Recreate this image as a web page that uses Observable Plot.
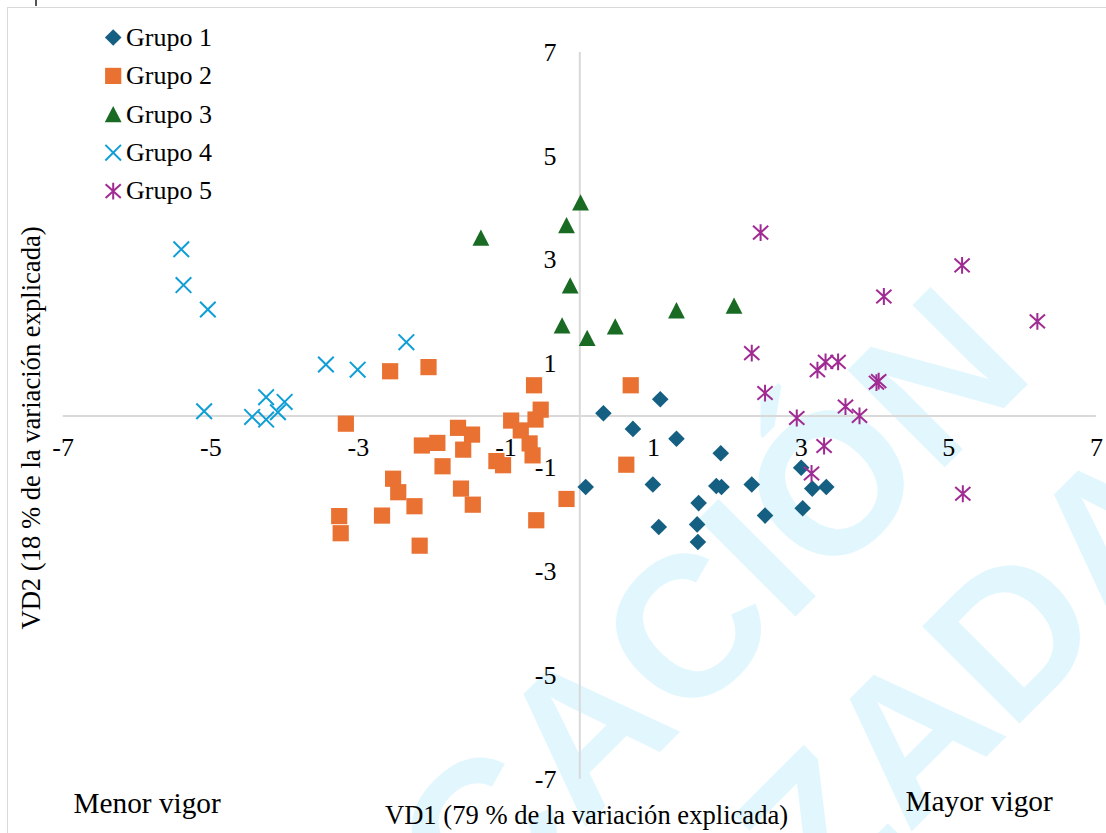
<!DOCTYPE html>
<html><head><meta charset="utf-8">
<script src="https://cdn.jsdelivr.net/npm/d3@7"></script>
<script src="https://cdn.jsdelivr.net/npm/@observablehq/plot@0.6"></script>
<style>
html,body{margin:0;padding:0;background:#fff;overflow:hidden;width:1106px;height:833px;}
#wrap{position:relative;width:1106px;height:833px;overflow:hidden;}
#frame{position:absolute;left:7px;top:7px;right:-5px;bottom:-5px;border-left:1.5px solid #d9d9d9;border-top:1.5px solid #d9d9d9;pointer-events:none;}
#tick{position:absolute;left:35px;top:0;width:1.5px;height:6px;background:#555;}
svg{overflow:hidden;display:block;}
</style></head><body><div id="wrap"><div id="chart"></div><div id="frame"></div><div id="tick"></div></div>
<script>
// ---- Data (VD1, VD2) ----
const grupo1 = [[0.32,0.05],[1.09,0.32],[0.72,-0.25],[1.31,-0.44],[1.91,-0.72],[0.08,-1.37],[0.99,-1.32],[1.85,-1.35],[1.92,-1.37],[2.33,-1.32],[3.00,-1.00],[3.15,-1.40],[3.34,-1.37],[3.02,-1.78],[2.51,-1.92],[1.61,-1.68],[1.59,-2.09],[1.60,-2.43],[1.07,-2.14]];
const grupo2 = [[-2.57,0.86],[-2.05,0.94],[-3.17,-0.15],[-0.62,0.59],[-0.53,0.12],[-0.60,-0.07],[-0.93,-0.09],[-0.80,-0.28],[-0.68,-0.53],[-0.64,-0.76],[-1.65,-0.23],[-1.46,-0.36],[-2.14,-0.57],[-1.93,-0.52],[-1.58,-0.65],[-1.86,-0.97],[-1.13,-0.87],[-1.04,-0.95],[-2.53,-1.21],[-2.46,-1.47],[-2.24,-1.74],[-1.61,-1.40],[-1.45,-1.71],[-3.26,-1.93],[-3.24,-2.26],[-2.68,-1.92],[-2.17,-2.50],[-0.18,-1.60],[-0.59,-2.01],[0.69,0.59],[0.63,-0.94]];
const grupo3 = [[0.01,4.11],[-0.18,3.67],[-1.34,3.43],[-0.13,2.51],[-0.24,1.74],[0.10,1.50],[0.48,1.72],[1.31,2.03],[2.09,2.12]];
const grupo4 = [[-5.40,3.21],[-5.37,2.52],[-5.04,2.05],[-2.35,1.42],[-3.44,0.99],[-3.01,0.89],[-5.09,0.09],[-4.25,0.36],[-4.00,0.27],[-4.44,-0.02],[-4.25,-0.07],[-4.09,0.07]];
const grupo5 = [[2.45,3.53],[5.18,2.90],[4.12,2.30],[6.20,1.82],[2.33,1.21],[3.33,1.04],[3.50,1.04],[3.22,0.88],[4.02,0.64],[4.05,0.67],[2.51,0.44],[3.60,0.18],[3.79,0.00],[2.94,-0.04],[3.31,-0.58],[3.14,-1.11],[5.19,-1.50]];
const groupNames = ["Grupo 1","Grupo 2","Grupo 3","Grupo 4","Grupo 5"];
const xTicks = [-7,-5,-3,-1,1,3,5,7];
const yTicks = [-7,-5,-3,-1,1,3,5,7];
const xTitle = "VD1 (79 % de la variación explicada)";
const yTitle = "VD2 (18 % de la variación explicada)";
const leftNote = "Menor vigor";
const rightNote = "Mayor vigor";
const watermark = ["CACIÓN","ZADA"];

// ---- Styles ----
const colors = ["#156082","#E97132","#196B24","#0F9ED5","#A02B93"];
const R = (s) => Math.sqrt(s / Math.PI);
const symDiamond = {draw(c, s){const h=R(s); c.moveTo(0,-h); c.lineTo(h,0); c.lineTo(0,h); c.lineTo(-h,0); c.closePath();}};
const symSquare = {draw(c, s){const h=R(s); c.moveTo(-h,-h); c.lineTo(h,-h); c.lineTo(h,h); c.lineTo(-h,h); c.closePath();}};
const symTriangle = {draw(c, s){const h=R(s); c.moveTo(0,-h); c.lineTo(h,h*0.95); c.lineTo(-h,h*0.95); c.closePath();}};
const symTimes = {draw(c, s){const h=R(s); c.moveTo(-h,-h); c.lineTo(h,h); c.moveTo(h,-h); c.lineTo(-h,h);}};
const symAsterisk = {draw(c, s){const h=R(s); c.moveTo(-h*0.95,-h*0.85); c.lineTo(h*0.95,h*0.85); c.moveTo(h*0.95,-h*0.85); c.lineTo(-h*0.95,h*0.85); c.moveTo(0,-h*1.05); c.lineTo(0,h*1.05);}};
const syms = [
  {symbol: symDiamond, r: 8.3, fill: colors[0], stroke: "none"},
  {symbol: symSquare, r: 8.1, fill: colors[1], stroke: "none"},
  {symbol: symTriangle, r: 8.4, fill: colors[2], stroke: "none"},
  {symbol: symTimes, r: 7.8, fill: "none", stroke: colors[3], strokeWidth: 2},
  {symbol: symAsterisk, r: 8, fill: "none", stroke: colors[4], strokeWidth: 2}
];
const groups = [grupo1, grupo2, grupo3, grupo4, grupo5];

const W = 1106, H = 833;
const mL = 62.7, mR = 10.1, mT = 52, mB = 54.2;
const serif = "'Liberation Serif', 'Times New Roman', serif";
const wmFont = "'Liberation Sans', Arial, sans-serif";

const marks = [];
// watermark
marks.push(Plot.text([watermark[0]], {frameAnchor:"top-left", dx: 479 - mL, dy: 932 - mT, text: d=>d, rotate: -45, fontSize: 200, fontWeight: "bold", fontFamily: wmFont, fill: "#e2f7fd", textAnchor: "start", lineAnchor: "bottom"}));
marks.push(Plot.text([watermark[1]], {frameAnchor:"top-left", dx: 821 - mL, dy: 921 - mT, text: d=>d, rotate: -45, fontSize: 200, fontWeight: "bold", fontFamily: wmFont, fill: "#e2f7fd", textAnchor: "start", lineAnchor: "bottom"}));
// axes lines through the origin
marks.push(Plot.ruleX([0], {y1: -7, y2: 7, stroke: "#d9d9d9", strokeWidth: 2}));
marks.push(Plot.ruleY([0], {x1: -7, x2: 7, stroke: "#d9d9d9", strokeWidth: 2}));
// tick labels
marks.push(Plot.text(xTicks, {x: d=>d, y: 0, dy: 39.6, text: d=>String(d), lineAnchor: "bottom", textAnchor: "middle", fontSize: 26, fontFamily: serif, fill: "#000"}));
marks.push(Plot.text(yTicks, {x: 0, y: d=>d, dx: -23.3, text: d=>String(d), lineAnchor: "middle", textAnchor: "end", fontSize: 26, fontFamily: serif, fill: "#000"}));
// data
groups.forEach((g, i) => {
  marks.push(Plot.dot(g, {x: d=>d[0], y: d=>d[1], ...syms[i]}));
});
// legend
groupNames.forEach((name, i) => {
  const cy = 37 + i*38.4 - mT;
  marks.push(Plot.dot([name], {frameAnchor: "top-left", dx: 112.7 - mL, dy: cy, ...syms[i]}));
  marks.push(Plot.text([name], {frameAnchor: "top-left", dx: 125.5 - mL, dy: cy, text: d=>d, textAnchor: "start", lineAnchor: "middle", fontSize: 26, fontFamily: serif, fill: "#000"}));
});
// titles
marks.push(Plot.text([xTitle], {frameAnchor: "top-left", dx: 586 - mL, dy: 823 - mT, text: d=>d, textAnchor: "middle", lineAnchor: "bottom", fontSize: 26.6, fontFamily: serif, fill: "#000"}));
marks.push(Plot.text([yTitle], {frameAnchor: "top-left", dx: 39.5 - mL, dy: 427.5 - mT, text: d=>d, rotate: -90, textAnchor: "middle", lineAnchor: "bottom", fontSize: 26.6, fontFamily: serif, fill: "#000"}));
marks.push(Plot.text([leftNote], {frameAnchor: "top-left", dx: 73 - mL, dy: 812 - mT, text: d=>d, textAnchor: "start", lineAnchor: "bottom", fontSize: 29.3, fontFamily: serif, fill: "#000"}));
marks.push(Plot.text([rightNote], {frameAnchor: "top-left", dx: 905 - mL, dy: 810 - mT, text: d=>d, textAnchor: "start", lineAnchor: "bottom", fontSize: 29.3, fontFamily: serif, fill: "#000"}));

const chart = Plot.plot({
  width: W, height: H,
  marginLeft: mL, marginRight: mR, marginTop: mT, marginBottom: mB,
  x: {domain: [-7, 7], axis: null},
  y: {domain: [-7, 7], axis: null},
  style: {background: "#fff", fontFamily: serif, overflow: "hidden"},
  marks
});
document.getElementById("chart").appendChild(chart);
</script></body></html>
